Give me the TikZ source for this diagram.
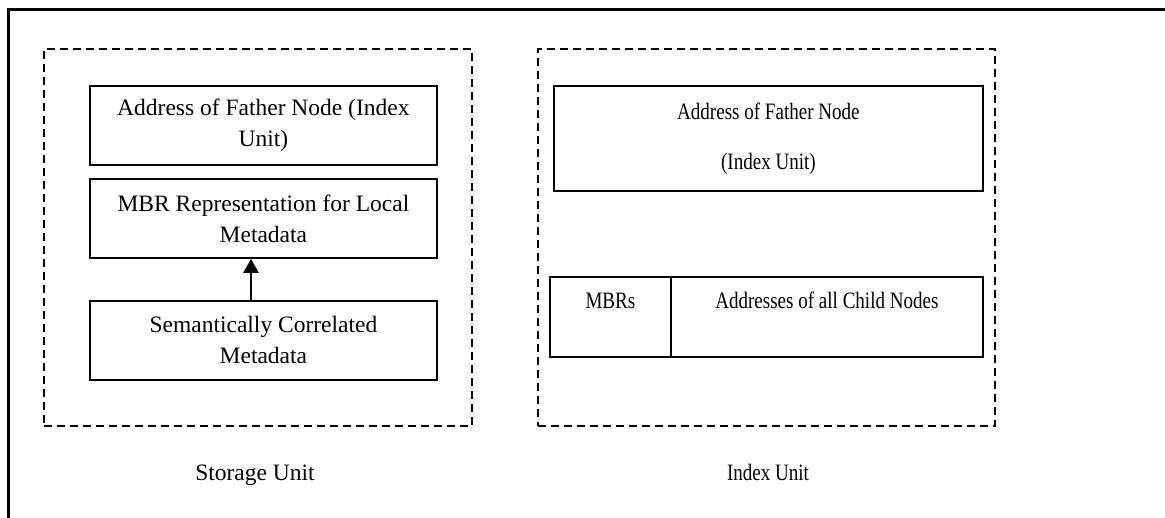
\documentclass[tikz,border=0pt]{standalone}
\usepackage{fontspec}
\setmainfont{Liberation Serif}
\usepackage{graphicx}
\usetikzlibrary{arrows.meta,calc}
% narrow lettering used in the index unit
\newcommand{\narrowtext}[1]{\scalebox{0.81}[1]{#1}}
\begin{document}
\begin{tikzpicture}[x=1pt,y=-1pt,
  every node/.style={font=\fontsize{23.5}{31}\selectfont, inner sep=0pt},
  frame/.style={line width=3pt},
  unitbox/.style={draw, dash pattern=on 8pt off 5pt, line width=1.8pt, rectangle, anchor=north west},
  fieldbox/.style={draw, line width=1.8pt, rectangle, align=center, anchor=north west},
  caption/.style={anchor=base}
]
\useasboundingbox (0,0) rectangle (1165,518);

% outer frame (top and left edges)
\coordinate (fbl) at (8,530);
\coordinate (ftl) at (8,10);
\coordinate (ftr) at (1180,10);
\draw[frame] (fbl) -- (ftl) -- (ftr);

% storage unit
\node[unitbox, minimum width=428pt, minimum height=377pt] (storage) at (43,48) {};
\node[fieldbox, minimum width=347pt, minimum height=79pt] (father) at (89,85)
  {Address of Father Node (Index\\Unit)};
\node[fieldbox, minimum width=347pt, minimum height=79pt] (mbrrep) at (89,178)
  {MBR Representation for Local\\Metadata};
\node[fieldbox, minimum width=347pt, minimum height=79pt] (semantic) at (89,300)
  {Semantically Correlated\\Metadata};
\coordinate (arrowx) at (251,0);
\draw[line width=2.6pt, -{Triangle[length=14pt,width=15pt]}]
  (semantic.north -| arrowx) -- (mbrrep.south -| arrowx);
\node[caption] (storagecap) at (255,480) {Storage Unit};

% index unit
\node[unitbox, minimum width=457pt, minimum height=377pt] (index) at (537,48) {};
\node[fieldbox, minimum width=429pt, minimum height=105pt,
      font=\fontsize{23.5}{50}\selectfont] (ifather) at (553,85)
  {\narrowtext{Address of Father Node}\\\narrowtext{(Index Unit)}};
\node[fieldbox, minimum width=121pt, minimum height=80pt] (mbrs) at (549,276) {};
\node[fieldbox, minimum width=312pt, minimum height=80pt] (children) at (670,276) {};
\node[caption] (mbrstext) at ($(mbrs.north)+(0,33)$) {\narrowtext{MBRs}};
\node[caption] (childtext) at ($(children.north)+(0,33)$) {\narrowtext{Addresses of all Child Nodes}};
\node[caption] (indexcap) at (768,480) {\narrowtext{Index Unit}};
\end{tikzpicture}
\end{document}
